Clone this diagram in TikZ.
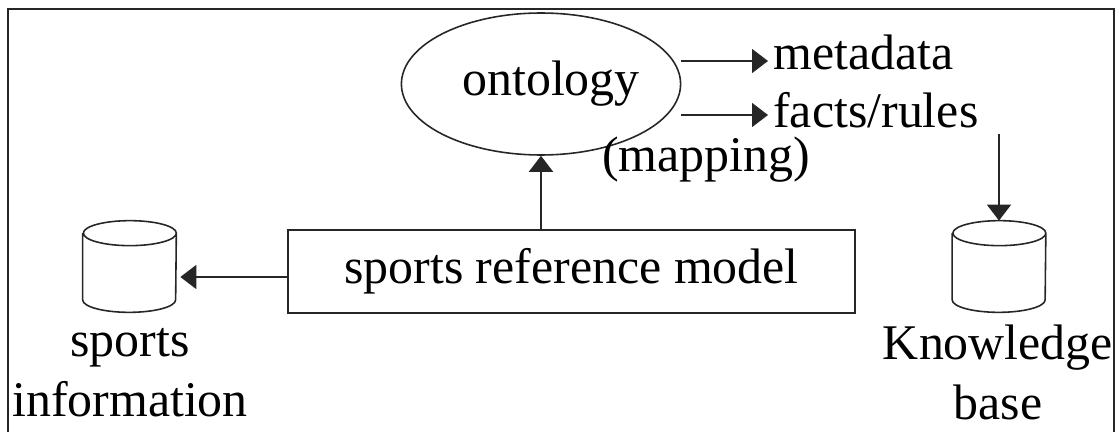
\documentclass[tikz,border=0pt]{standalone}
\usepackage{fontspec}
\setmainfont{Liberation Serif}
\usetikzlibrary{arrows.meta,shapes.geometric}

\tikzset{
  line/.style={draw=black!85, line width=0.9pt},
  arr/.style={line, -{Triangle[length=0.32cm,width=0.48cm]}},
  txt/.style={font=\fontsize{28.4pt}{34pt}\selectfont, inner sep=0pt},
  modelbox/.style={line, txt, rectangle, minimum width=11.34cm, minimum height=1.66cm},
  ontobox/.style={line, txt, ellipse, minimum width=5.36cm, minimum height=2.84cm},
  dbslot/.style={rectangle, inner sep=0pt, minimum width=1.86cm, minimum height=1.82cm},
  dblabel/.style={txt, align=center, anchor=north}
}

% draws a vertical cylinder filling the slot node #1
\newcommand{\dbdrum}[1]{%
  \draw[line] ([yshift=-0.25cm]#1.north west) -- ([yshift=0.25cm]#1.south west)
    arc[start angle=180, end angle=360, x radius=0.93cm, y radius=0.25cm]
    -- ([yshift=-0.25cm]#1.north east)
    arc[start angle=0, end angle=360, x radius=0.93cm, y radius=0.25cm];%
}

\begin{document}
\begin{tikzpicture}[x=0.02cm, y=-0.02cm]
  \useasboundingbox (0,0) rectangle (1120,432);

  % open frame
  \draw[line, line width=1.1pt] (8,432) -- (8,9) -- (1114,9) -- (1114,432);

  % main nodes
  \node[modelbox] (model) at (571.5,271.5) {sports reference model};
  \node[ontobox] (onto) at (541,84) {\hspace{0.4cm}ontology};

  \node[txt, anchor=base west, inner sep=0.1cm] (meta) at (768,70) {metadata};
  \node[txt, anchor=base west, inner sep=0.1cm] (facts) at (768,128) {facts/rules};
  \node[txt, anchor=base west] (mapping) at (602,172) {(mapping)};

  % arrow entry points beside the two output labels
  \coordinate (metain) at ([yshift=0.18cm]meta.base west);
  \coordinate (factsin) at ([yshift=0.26cm]facts.base west);

  % databases
  \node[dbslot] (info) at (129.5,266.5) {};
  \dbdrum{info}
  \node[dbslot] (kb) at (999,266.5) {};
  \dbdrum{kb}

  \node[dblabel] (infolbl) at (130,328) {sports\\information};
  \node[dblabel] (kblbl) at (998,325) {Knowledge\\base};

  % connectors
  \draw[arr] (onto.south |- model.north) -- (onto.south);
  \draw[arr] (onto.east |- metain) -- (metain);
  \draw[arr] (onto.east |- factsin) -- (factsin);
  \draw[arr] (kb.north |- facts.south) -- (kb.north);
  \draw[arr] (model.west |- 0,277) -- ([xshift=0.08cm]info.east |- 0,277);
\end{tikzpicture}
\end{document}
